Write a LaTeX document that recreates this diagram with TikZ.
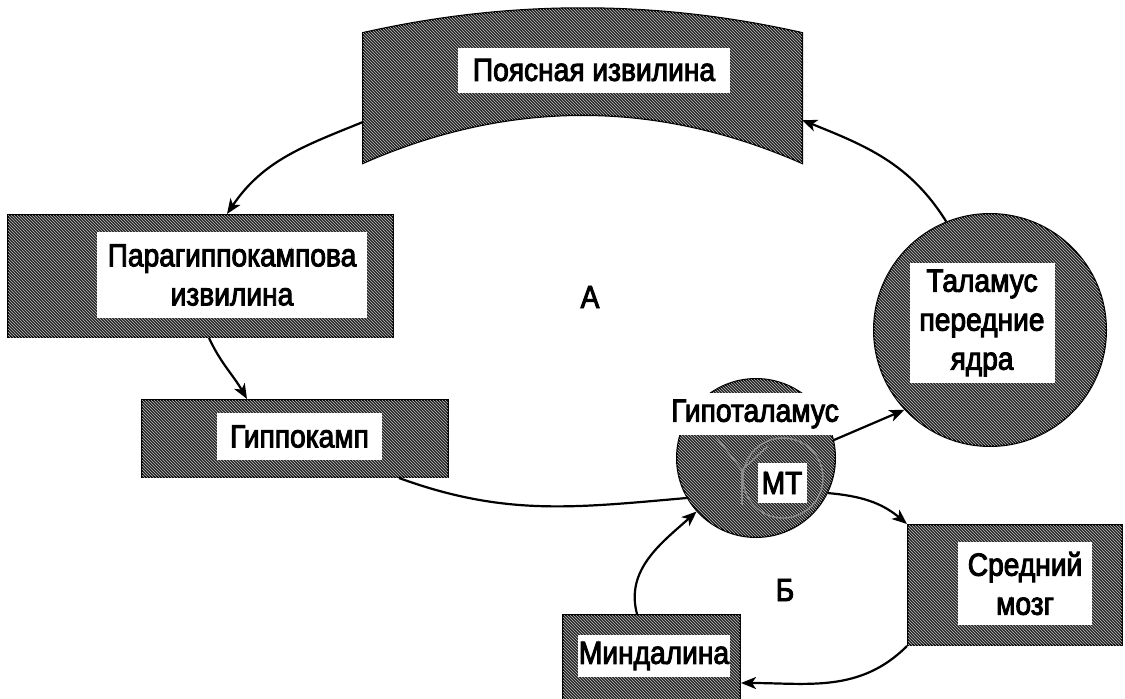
\documentclass[tikz,border=0pt]{standalone}
\usepackage{fontspec}
\setmainfont{Liberation Sans}[FakeStretch=0.88,FakeBold=3]
\usetikzlibrary{patterns,arrows.meta}
\tikzset{
  hatchfill/.style={draw=black, line width=2pt, fill=black!85,
    postaction={pattern=north west lines, pattern color=black!25}},
  hatchbox/.style={hatchfill, rectangle, inner sep=0pt},
  hatchcirc/.style={hatchfill, circle, inner sep=0pt},
  lbl/.style={fill=white, inner sep=0pt, align=center, font=\fontsize{32}{39}\selectfont},
  txt/.style={inner sep=0pt, font=\fontsize{32}{39}\selectfont},
  conn/.style={line width=2.2pt},
  arr/.style={conn, -{Stealth[length=15pt,width=12pt,inset=4pt]}},
  innerline/.style={draw=black!45, line width=1.4pt}
}
\begin{document}
\begin{tikzpicture}[x=1pt,y=1pt]
\useasboundingbox (0,0) rectangle (1125,-699);

% cingulate gyrus band
\path[hatchfill] (363,-33) .. controls (509,0) and (656,0) .. (802,-33)
  -- (802,-163) .. controls (656,-99) and (509,-99) .. (363,-163) -- cycle;
\coordinate (cingW) at (363,-122);
\coordinate (cingE) at (802,-120);
\node[lbl, minimum width=272pt, minimum height=45pt] (cing) at (594,-70) {Поясная извилина};

% parahippocampal gyrus
\node[hatchbox, minimum width=385pt, minimum height=122pt] (para) at (200.5,-276) {};
\node[lbl, minimum width=270pt, minimum height=86pt] (parat) at (232,-275) {Парагиппокампова\\извилина};

% hippocampus
\node[hatchbox, minimum width=306pt, minimum height=77pt] (hippo) at (295,-438.5) {};
\node[lbl, minimum width=165pt, minimum height=47pt] (hippot) at (299.5,-436.5) {Гиппокамп};

% thalamus
\node[hatchcirc, minimum size=232pt] (thal) at (990,-330) {};
\node[lbl, minimum width=145pt, minimum height=120pt] (thalt) at (982,-323) {Таламус\\передние\\ядра};

% hypothalamus
\node[hatchcirc, minimum size=158pt] (hypo) at (756,-458) {};
\draw[innerline] (783,-478) circle (40);
\draw[innerline] (717,-438) -- (742,-470) -- (768,-446);
\draw[innerline] (742,-470) -- (742,-505);
\node[lbl, minimum width=180pt, minimum height=42pt] (hypot) at (755,-414) {Гипоталамус};
\node[lbl, minimum width=49pt, minimum height=40pt] (mt) at (782,-483) {МТ};

% midbrain
\node[hatchbox, minimum width=214pt, minimum height=120pt] (mid) at (1015,-585) {};
\node[lbl, minimum width=134pt, minimum height=83pt] (midt) at (1025,-583.5) {Средний\\мозг};

% amygdala
\node[hatchbox, minimum width=177pt, minimum height=94pt] (amyg) at (651.5,-662) {};
\node[lbl, minimum width=152pt, minimum height=42pt] (amygt) at (654,-656) {Миндалина};

% letters
\node[txt] (A) at (590,-297) {А};
\node[txt] (B) at (785,-590) {Б};

% connectors
\draw[arr] (cingW) to[out=202,in=56] ([xshift=220pt]para.north west);
\draw[arr] ([xshift=202pt]para.south west) to[out=-65,in=120] ([xshift=106pt]hippo.north west);
\draw[conn] ([xshift=258pt]hippo.south west) to[out=-20,in=185] (hypo.210);
\draw[arr] ([xshift=75pt]amyg.north west) to[out=105,in=222] (hypo.222);
\draw[arr] (hypo.13) -- (thal.223);
\draw[arr] (hypo.-26) to[out=-5,in=140] (mid.north west);
\draw[arr] (mid.south west) to[out=225,in=0] ([yshift=-21pt]amyg.east);
\draw[arr] (thal.112) to[out=122,in=-22] (cingE);
\end{tikzpicture}
\end{document}
